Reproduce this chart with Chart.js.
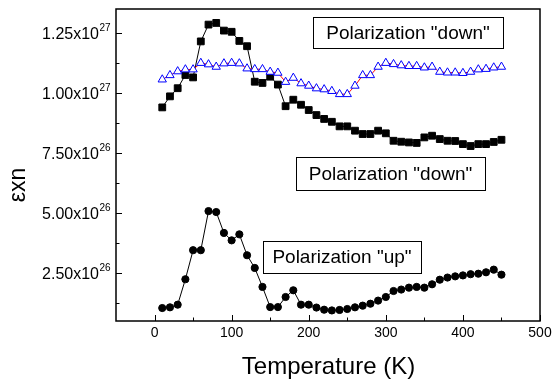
<!DOCTYPE html>
<html>
<head>
<meta charset="utf-8">
<script src="https://cdn.jsdelivr.net/npm/chart.js@4"></script>
<style>
  html, body { margin: 0; background: #fff; }
  canvas { display: block; }
</style>
</head>
<body>
<canvas id="chart" width="554" height="381"></canvas>
<script>
// ---------------------- Data ----------------------
const TEMPERATURE = [10, 20, 30, 40, 50, 60, 70, 80, 90, 100, 110, 120, 130, 140, 150,
  160, 170, 180, 190, 200, 210, 220, 230, 240, 250, 260, 270, 280, 290, 300,
  310, 320, 330, 340, 350, 360, 370, 380, 390, 400, 410, 420, 430, 440, 450];

// Polarization "down" (filled squares)
const DOWN_SQUARES = [9.40e26, 9.86e26, 1.020e27, 1.075e27, 1.065e27, 1.215e27, 1.285e27, 1.292e27, 1.260e27, 1.255e27,
  1.217e27, 1.195e27, 1.047e27, 1.042e27, 1.068e27, 1.035e27, 9.45e26, 9.72e26, 9.51e26, 9.29e26,
  9.08e26, 8.92e26, 8.80e26, 8.61e26, 8.61e26, 8.43e26, 8.29e26, 8.29e26, 8.43e26, 8.32e26,
  8.01e26, 7.97e26, 7.94e26, 7.92e26, 8.15e26, 8.22e26, 8.08e26, 8.01e26, 8.00e26, 7.87e26,
  7.79e26, 7.87e26, 7.87e26, 7.96e26, 8.05e26];

// Polarization "down" (open triangles)
const DOWN_TRIANGLES = [1.056e27, 1.074e27, 1.090e27, 1.098e27, 1.098e27, 1.125e27, 1.119e27, 1.109e27, 1.123e27, 1.125e27,
  1.123e27, 1.102e27, 1.099e27, 1.099e27, 1.088e27, 1.084e27, 1.046e27, 1.063e27, 1.040e27, 1.030e27,
  1.019e27, 1.015e27, 1.008e27, 9.95e26, 9.95e26, 1.030e27, 1.074e27, 1.074e27, 1.109e27, 1.125e27,
  1.120e27, 1.115e27, 1.112e27, 1.112e27, 1.106e27, 1.109e27, 1.088e27, 1.085e27, 1.085e27, 1.083e27,
  1.088e27, 1.098e27, 1.100e27, 1.106e27, 1.109e27];

// Polarization "up" (filled circles)
const UP_CIRCLES = [1.04e26, 1.07e26, 1.18e26, 2.24e26, 3.45e26, 3.45e26, 5.08e26, 5.04e26, 4.17e26, 3.86e26,
  4.11e26, 3.24e26, 2.71e26, 1.92e26, 1.08e26, 1.08e26, 1.50e26, 1.78e26, 1.18e26, 1.18e26,
  1.06e26, 0.97e26, 0.94e26, 0.96e26, 1.00e26, 1.07e26, 1.14e26, 1.22e26, 1.35e26, 1.50e26,
  1.75e26, 1.81e26, 1.89e26, 1.92e26, 1.89e26, 2.03e26, 2.22e26, 2.31e26, 2.36e26, 2.40e26,
  2.45e26, 2.47e26, 2.53e26, 2.64e26, 2.43e26];

const X_TICKS = [0, 100, 200, 300, 400, 500];
const X_MINOR_TICKS = [50, 150, 250, 350, 450];
const Y_TICKS = [2.5e26, 5e26, 7.5e26, 1e27, 1.25e27];
const Y_TICK_MANTISSA = ['2.50x10', '5.00x10', '7.50x10', '1.00x10', '1.25x10'];
const Y_TICK_EXPONENT = ['26', '26', '26', '27', '27'];
const Y_MINOR_TICKS = [1.25e26, 3.75e26, 6.25e26, 8.75e26, 1.125e27];

const FONT = "'Liberation Sans', Arial, sans-serif";

const points = (vals) => TEMPERATURE.map((t, i) => ({ x: t, y: vals[i] }));

// ---------------------- Axes, labels & notes ----------------------
const NOTES = [
  { text: 'Polarization "down"', left: 313, top: 17, right: 503, bottom: 48 },
  { text: 'Polarization "down"', left: 296, top: 157, right: 485, bottom: 190 },
  { text: 'Polarization "up"',   left: 263, top: 241, right: 421, bottom: 273 },
];

const axesPlugin = {
  id: 'axesFrame',
  afterDatasetsDraw(chart) {
    const { ctx, chartArea: a, scales: { x, y } } = chart;
    ctx.save();

    // text boxes
    NOTES.forEach(n => {
      ctx.fillStyle = '#fff';
      ctx.fillRect(n.left, n.top, n.right - n.left, n.bottom - n.top);
      ctx.strokeStyle = '#000';
      ctx.lineWidth = 1;
      ctx.strokeRect(n.left + 0.5, n.top + 0.5, n.right - n.left, n.bottom - n.top);
      ctx.fillStyle = '#000';
      ctx.font = `19px ${FONT}`;
      ctx.textAlign = 'center';
      ctx.textBaseline = 'middle';
      ctx.fillText(n.text, (n.left + n.right) / 2, (n.top + n.bottom) / 2 + 1);
    });

    // frame
    ctx.strokeStyle = '#000';
    ctx.lineWidth = 1.5;
    ctx.strokeRect(a.left, a.top, a.right - a.left, a.bottom - a.top);

    // inward tick marks
    ctx.lineWidth = 1;
    ctx.beginPath();
    X_TICKS.forEach(v => { const px = Math.round(x.getPixelForValue(v)) + 0.5; ctx.moveTo(px, a.bottom); ctx.lineTo(px, a.bottom - 6); });
    X_MINOR_TICKS.forEach(v => { const px = Math.round(x.getPixelForValue(v)) + 0.5; ctx.moveTo(px, a.bottom); ctx.lineTo(px, a.bottom - 3.5); });
    Y_TICKS.forEach(v => { const py = Math.round(y.getPixelForValue(v)) + 0.5; ctx.moveTo(a.left, py); ctx.lineTo(a.left + 6, py); });
    Y_MINOR_TICKS.forEach(v => { const py = Math.round(y.getPixelForValue(v)) + 0.5; ctx.moveTo(a.left, py); ctx.lineTo(a.left + 3.5, py); });
    ctx.stroke();

    // x tick labels
    ctx.fillStyle = '#000';
    ctx.font = `14px ${FONT}`;
    ctx.textAlign = 'center';
    ctx.textBaseline = 'alphabetic';
    X_TICKS.forEach(v => ctx.fillText(String(v), x.getPixelForValue(v), a.bottom + 16));

    // y tick labels with superscript exponent
    Y_TICKS.forEach((v, i) => {
      const py = y.getPixelForValue(v);
      ctx.font = `16px ${FONT}`;
      ctx.textAlign = 'right';
      ctx.fillText(Y_TICK_MANTISSA[i], 99, py + 6);
      ctx.font = `10px ${FONT}`;
      ctx.textAlign = 'left';
      ctx.fillText(Y_TICK_EXPONENT[i], 99.5, py - 2);
    });

    // axis titles
    ctx.font = `24px ${FONT}`;
    ctx.textAlign = 'center';
    ctx.fillText('Temperature (K)', (a.left + a.right) / 2 + 0.5, 374);

    ctx.translate(25, 185);
    ctx.rotate(-Math.PI / 2);
    ctx.font = `23px ${FONT}`;
    ctx.fillText('εxn', 0, 0);

    ctx.restore();
  },
};

// ---------------------- Chart ----------------------
new Chart(document.getElementById('chart'), {
  type: 'line',
  data: {
    datasets: [
      {
        label: 'down (triangles)',
        data: points(DOWN_TRIANGLES),
        borderColor: '#ff0000',
        borderWidth: 1,
        pointStyle: 'triangle',
        pointRadius: 4.8,
        pointBorderColor: '#0000ff',
        pointBackgroundColor: '#ffffff',
        pointBorderWidth: 1,
      },
      {
        label: 'down (squares)',
        data: points(DOWN_SQUARES),
        borderColor: '#000',
        borderWidth: 1,
        pointStyle: 'rect',
        pointRadius: 4.8,
        pointBorderColor: '#000',
        pointBackgroundColor: '#000',
        pointBorderWidth: 1,
      },
      {
        label: 'up (circles)',
        data: points(UP_CIRCLES),
        borderColor: '#000',
        borderWidth: 1,
        pointStyle: 'circle',
        pointRadius: 3.6,
        pointBorderColor: '#000',
        pointBackgroundColor: '#000',
        pointBorderWidth: 1,
      },
    ],
  },
  options: {
    responsive: false,
    animation: false,
    devicePixelRatio: 1,
    layout: { padding: { left: 116, right: 14, top: 9, bottom: 60 } },
    elements: { line: { tension: 0 } },
    plugins: { legend: { display: false }, tooltip: { enabled: false } },
    scales: {
      x: { type: 'linear', min: -50, max: 500, display: false },
      y: { type: 'linear', min: 5e25, max: 1.35e27, display: false },
    },
  },
  plugins: [axesPlugin],
});
</script>
</body>
</html>
